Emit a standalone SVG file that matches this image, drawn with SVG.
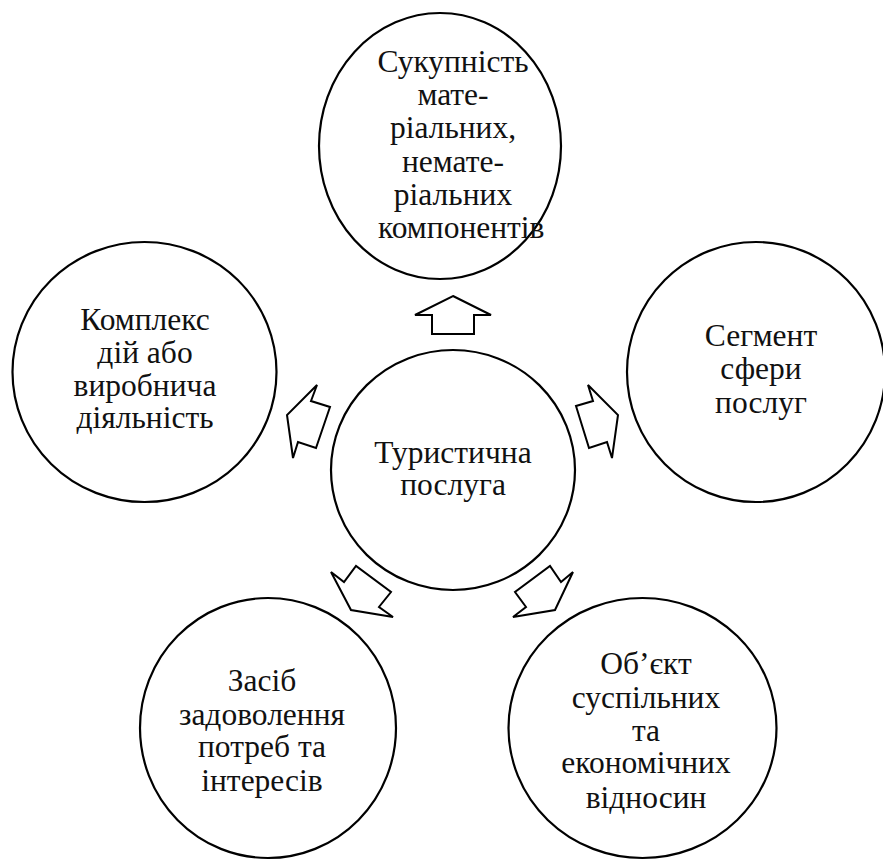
<svg xmlns="http://www.w3.org/2000/svg" width="883" height="860" viewBox="0 0 883 860">
<style>
.node ellipse{fill:#fff;stroke:#000;stroke-width:2.2}
.node text{font-family:'Liberation Serif','DejaVu Serif',serif;font-size:31.5px;fill:#111;text-anchor:middle}
.arr polygon{fill:#fff;stroke:#000;stroke-width:2;stroke-linejoin:miter}
</style>
<rect width="883" height="860" fill="#fff"/>
<g id="top" class="node">
<ellipse cx="440" cy="146" rx="121" ry="133"/>
<text x="453" y="72">Сукупність</text>
<text x="453" y="105">мате-</text>
<text x="453" y="138">ріальних,</text>
<text x="453" y="172">немате-</text>
<text x="453" y="205">ріальних</text>
<text x="378" y="238" style="text-anchor:start">компонентів</text>
</g>
<g id="left" class="node">
<ellipse cx="144.5" cy="372" rx="132" ry="130"/>
<text x="145" y="330">Комплекс</text>
<text x="145" y="363">дій або</text>
<text x="145" y="396">виробнича</text>
<text x="145" y="428">діяльність</text>
</g>
<g id="right" class="node">
<ellipse cx="756" cy="372" rx="129" ry="130"/>
<text x="761" y="346">Сегмент</text>
<text x="761" y="379">сфери</text>
<text x="761" y="413">послуг</text>
</g>
<g id="center" class="node">
<ellipse cx="453" cy="470" rx="122" ry="120"/>
<text x="453" y="463">Туристична</text>
<text x="453" y="495">послуга</text>
</g>
<g id="bottomleft" class="node">
<ellipse cx="268" cy="728" rx="128" ry="130"/>
<text x="262" y="691">Засіб</text>
<text x="262" y="725">задоволення</text>
<text x="262" y="757">потреб та</text>
<text x="262" y="791">інтересів</text>
</g>
<g id="bottomright" class="node">
<ellipse cx="642.5" cy="728" rx="134" ry="130"/>
<text x="646" y="674">Об’єкт</text>
<text x="646" y="708">суспільних</text>
<text x="646" y="741">та</text>
<text x="646" y="773">економічних</text>
<text x="646" y="808">відносин</text>
</g>
<g id="connectors" class="arr">
<polygon points="453,296 491,315 474,315 474,334 432,334 432,315 415,315"/>
<polygon points="588,385 618,415 612,458 607,442 589,448 576,406 593,401"/>
<polygon points="317,385 287,415 293,458 298,442 316,448 330,407 311,401"/>
<polygon points="331,572 344,582 356,566 391,592 379,607 393,617 351,610"/>
<polygon points="573,572 561,582 550,566 515,592 526,607 513,617 555,610"/>
</g>
</svg>
